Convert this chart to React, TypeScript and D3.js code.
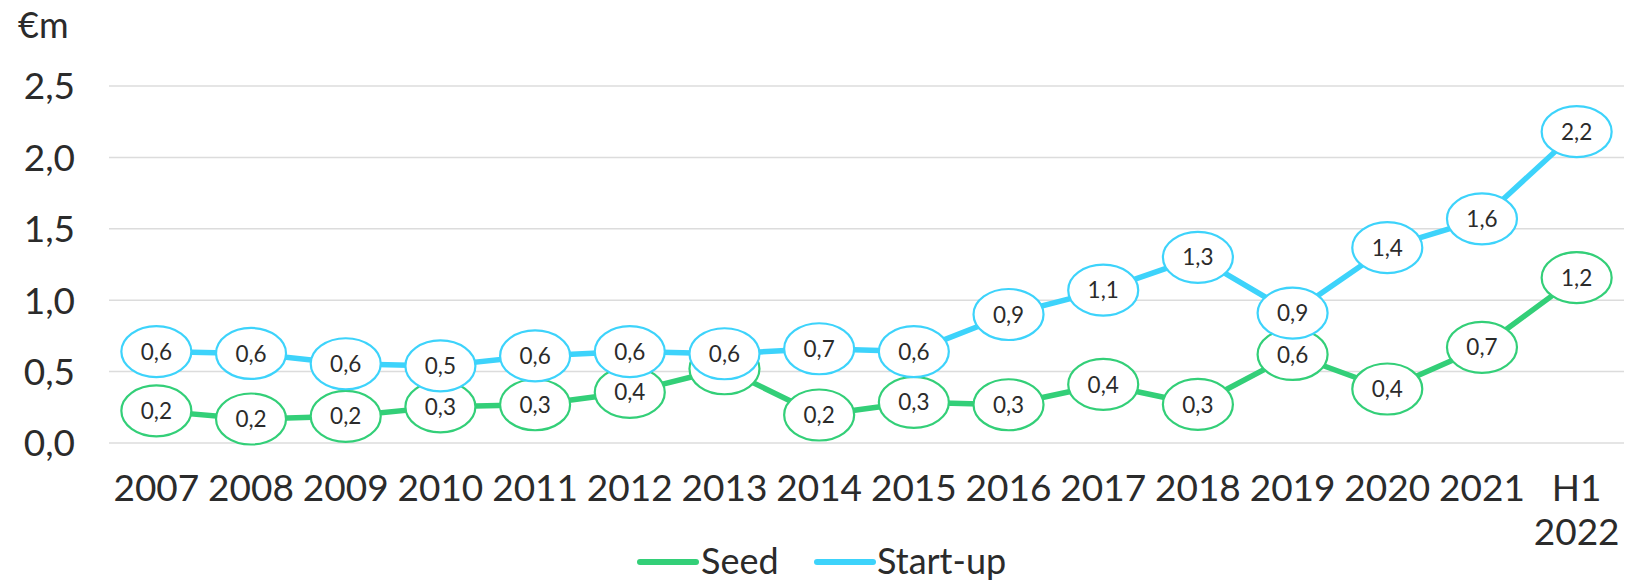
import React from "react";
import * as d3 from "d3";

const categories = ["2007", "2008", "2009", "2010", "2011", "2012", "2013", "2014", "2015", "2016", "2017", "2018", "2019", "2020", "2021", "H1\n2022"];
const seed = [0.225, 0.168, 0.187, 0.253, 0.268, 0.355, 0.52, 0.196, 0.285, 0.268, 0.41, 0.27, 0.62, 0.378, 0.67, 1.158];
const startUp = [0.64, 0.627, 0.555, 0.54, 0.61, 0.64, 0.625, 0.66, 0.64, 0.9, 1.07, 1.3, 0.91, 1.368, 1.57, 2.18];
const yTicks = [0, 0.5, 1, 1.5, 2, 2.5];

const series = [
  { name: "Seed", values: seed, color: "#33cf78" },
  { name: "Start-up", values: startUp, color: "#3dd3fb" },
];

const width = 1636;
const height = 581;
const font = "Lato, 'Open Sans', sans-serif";
const textColor = "#2b2b2b";
const comma = (v: number) => v.toFixed(1).replace(".", ",");

export default function App() {
  const x = d3.scaleBand().domain(categories).range([109, 1624]).paddingInner(0).paddingOuter(0);
  const y = d3.scaleLinear().domain([0, 2.5]).range([443, 86]);
  const cx = (c: string) => (x(c) as number) + x.bandwidth() / 2;

  const line = d3
    .line<number>()
    .x((_, i) => cx(categories[i]))
    .y((d) => y(d));

  // a seed label sitting under a start-up bubble is covered in the original
  const covered = (si: number, i: number) =>
    si === 0 && Math.abs(y(seed[i]) - y(startUp[i])) < 30;

  return (
    <svg
      width={width}
      height={height}
      style={{ position: "absolute", left: 0, top: 0, display: "block", background: "white" }}
      fontFamily={font}
    >
      {/* gridlines + y axis */}
      <g>
        {yTicks.map((t) => (
          <g key={t}>
            <line x1={109} x2={1624} y1={y(t)} y2={y(t)} stroke="#dcdcdc" strokeWidth={1.5} />
            <text x={75} y={y(t)} dy="0.36em" textAnchor="end" fontSize={37} fill={textColor}>
              {comma(t)}
            </text>
          </g>
        ))}
        <text x={18} y={38} fontSize={36} fill={textColor}>
          €m
        </text>
      </g>

      {/* x axis labels */}
      <g>
        {categories.map((c) => (
          <text key={c} x={cx(c)} y={501} textAnchor="middle" fontSize={37} fill={textColor}>
            {c.split("\n").map((part, j) => (
              <tspan key={j} x={cx(c)} dy={j === 0 ? 0 : 44}>
                {part}
              </tspan>
            ))}
          </text>
        ))}
      </g>

      {/* series */}
      {series.map((s, si) => (
        <g key={s.name}>
          <path d={line(s.values) || ""} fill="none" stroke={s.color} strokeWidth={5.5} strokeLinejoin="round" />
          {s.values.map((v, i) => (
            <g key={i} transform={`translate(${cx(categories[i])},${y(v)})`}>
              <ellipse rx={35} ry={25.5} fill="white" stroke={s.color} strokeWidth={2.2} />
              {!covered(si, i) && (
                <text textAnchor="middle" dy="0.36em" fontSize={22.5} fill={textColor}>
                  {comma(v)}
                </text>
              )}
            </g>
          ))}
        </g>
      ))}

      {/* legend */}
      <g>
        <line x1={640} x2={696} y1={562} y2={562} stroke={series[0].color} strokeWidth={6} strokeLinecap="round" />
        <text x={701} y={574} fontSize={36} fill={textColor}>
          Seed
        </text>
        <line x1={817} x2={873} y1={562} y2={562} stroke={series[1].color} strokeWidth={6} strokeLinecap="round" />
        <text x={877} y={574} fontSize={36} fill={textColor}>
          Start-up
        </text>
      </g>
    </svg>
  );
}
